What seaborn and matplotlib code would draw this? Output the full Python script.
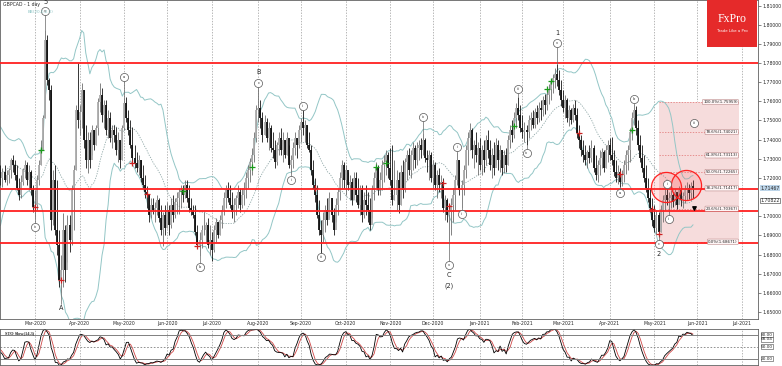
import numpy as np
import pandas as pd
import seaborn as sns
import matplotlib.pyplot as plt
import matplotlib.transforms as mtrans
from matplotlib.patches import Rectangle
from matplotlib.ticker import FormatStrFormatter

sns.set_style("white")
plt.rcParams['font.family'] = ['DejaVu Sans']

# GBPCAD daily bars, prices in pips (1e-4)
# warm-up bars (8 Jan - 5 Feb 2020), only used by the indicators
pre_high = [17040, 17010, 16980, 17010, 17060, 17100, 17140, 17180, 17230, 17270, 17320,
            17360, 17400, 17430, 17420, 17390, 17340, 17290, 17250, 17260, 17270]
pre_low = [16950, 16920, 16890, 16920, 16970, 17020, 17060, 17100, 17140, 17180, 17230,
           17280, 17320, 17350, 17330, 17290, 17240, 17190, 17160, 17170, 17190]
pre_close = [17000, 16960, 16930, 16980, 17030, 17070, 17110, 17150, 17190, 17240, 17290,
             17330, 17370, 17400, 17380, 17330, 17290, 17240, 17200, 17220, 17240]

# 6 Feb 2020 -> 28 May 2021
high = [
    17267, 17252, 17267, 17241, 17252, 17304, 17320, 17294, 17267, 17200,
    17215, 17252, 17294, 17283, 17267, 17241, 17163, 17137, 17215, 17294,
    17398, 17528, 17972, 17946, 17722, 17685, 17241, 17267, 17189, 16928,
    16797, 17017, 16954, 17006, 17006, 17163, 17267, 17581, 17800, 17581,
    17696, 17659, 17476, 17440, 17440, 17476, 17450, 17476, 17617, 17696,
    17669, 17607, 17607, 17555, 17544, 17476, 17476, 17466, 17440, 17398,
    17476, 17622, 17622, 17555, 17502, 17466, 17372, 17335, 17320, 17294,
    17267, 17215, 17158, 17111, 17095, 17095, 17074, 17111, 17095, 17058,
    17022, 17058, 17074, 17058, 17095, 17111, 17095, 17127, 17147, 17163,
    17163, 17189, 17189, 17163, 17095, 17058, 17058, 16954, 16918, 16954,
    17022, 16970, 16991, 16954, 16918, 16954, 16991, 16970, 17006, 17058,
    17127, 17163, 17179, 17163, 17127, 17095, 17111, 17163, 17147, 17147,
    17179, 17231, 17267, 17304, 17356, 17440, 17581, 17669, 17607, 17544,
    17528, 17513, 17492, 17476, 17440, 17398, 17388, 17440, 17461, 17440,
    17398, 17440, 17372, 17320, 17388, 17440, 17408, 17476, 17513, 17555,
    17502, 17476, 17440, 17372, 17294, 17200, 17163, 17085, 16980, 17022,
    17058, 17095, 17127, 17095, 17043, 17095, 17147, 17231, 17294, 17283,
    17267, 17231, 17215, 17200, 17231, 17231, 17200, 17163, 17163, 17127,
    17163, 17127, 17095, 17163, 17231, 17283, 17267, 17231, 17294, 17320,
    17346, 17335, 17356, 17372, 17294, 17241, 17231, 17267, 17294, 17304,
    17346, 17356, 17346, 17388, 17372, 17388, 17398, 17408, 17435, 17408,
    17346, 17346, 17335, 17294, 17283, 17241, 17252, 17215, 17200, 17111,
    17095, 17058, 17095, 17147, 17215, 17335, 17294, 17189, 17267, 17372,
    17440, 17487, 17461, 17398, 17440, 17388, 17408, 17372, 17398, 17424,
    17450, 17398, 17356, 17388, 17408, 17398, 17372, 17346, 17346, 17356,
    17424, 17476, 17502, 17544, 17591, 17622, 17581, 17528, 17492, 17476,
    17528, 17544, 17555, 17565, 17581, 17596, 17607, 17628, 17638, 17659,
    17690, 17716, 17743, 17774, 17795, 17763, 17711, 17659, 17633, 17617,
    17581, 17565, 17586, 17607, 17565, 17476, 17424, 17398, 17372, 17346,
    17372, 17398, 17372, 17320, 17294, 17346, 17356, 17346, 17372, 17398,
    17408, 17414, 17346, 17294, 17267, 17252, 17241, 17294, 17346, 17372,
    17461, 17544, 17586, 17575, 17502, 17424, 17372, 17320, 17267, 17200,
    17147, 17095, 17058, 17032, 17022, 17058, 17111, 17147, 17158, 17127,
    17137, 17127, 17147, 17121, 17158, 17147, 17127, 17163, 17179, 17168,
    17179, 17189]
low = [
    17163, 17153, 17179, 17163, 17174, 17200, 17231, 17189, 17137, 17085,
    17095, 17163, 17200, 17163, 17137, 17111, 17022, 16991, 17032, 17163,
    17267, 17346, 17513, 17685, 17607, 16928, 16954, 16902, 16797, 16630,
    16599, 16630, 16656, 16761, 16813, 16850, 16928, 17241, 17461, 17424,
    17461, 17356, 17252, 17226, 17252, 17320, 17346, 17372, 17424, 17544,
    17492, 17461, 17424, 17408, 17388, 17356, 17388, 17320, 17283, 17252,
    17294, 17450, 17492, 17424, 17356, 17283, 17252, 17231, 17215, 17179,
    17147, 17095, 17043, 16970, 16991, 17012, 16970, 17006, 16970, 16902,
    16844, 16902, 16938, 16902, 16938, 16970, 16991, 17012, 17012, 17043,
    17074, 17095, 17074, 17022, 17006, 16991, 16902, 16834, 16792, 16834,
    16902, 16865, 16834, 16797, 16766, 16813, 16865, 16886, 16902, 16938,
    17006, 17043, 17074, 17043, 16991, 16970, 17006, 17043, 17022, 17043,
    17058, 17095, 17147, 17179, 17215, 17283, 17388, 17492, 17461, 17388,
    17424, 17388, 17346, 17335, 17304, 17252, 17267, 17320, 17320, 17283,
    17304, 17320, 17252, 17220, 17252, 17320, 17304, 17356, 17388, 17424,
    17388, 17356, 17335, 17215, 17147, 17074, 16991, 16902, 16797, 16865,
    16918, 16954, 16991, 16970, 16902, 16970, 17006, 17085, 17147, 17147,
    17111, 17137, 17085, 17058, 17095, 17074, 17043, 17006, 16970, 16991,
    17006, 16970, 16928, 16991, 17085, 17147, 17111, 17111, 17147, 17179,
    17215, 17200, 17163, 17058, 17085, 17032, 17017, 17058, 17095, 17127,
    17189, 17215, 17200, 17241, 17252, 17267, 17294, 17304, 17320, 17283,
    17231, 17189, 17179, 17147, 17137, 17095, 17127, 17095, 17022, 16980,
    16970, 16871, 16902, 16970, 17032, 17163, 17111, 17043, 17111, 17200,
    17267, 17346, 17304, 17252, 17283, 17215, 17241, 17215, 17231, 17267,
    17304, 17241, 17200, 17215, 17267, 17241, 17231, 17215, 17226, 17231,
    17267, 17356, 17388, 17408, 17461, 17502, 17440, 17408, 17388, 17372,
    17408, 17450, 17461, 17461, 17482, 17492, 17502, 17523, 17534, 17555,
    17586, 17607, 17643, 17669, 17680, 17633, 17575, 17544, 17513, 17492,
    17471, 17482, 17492, 17502, 17408, 17356, 17314, 17283, 17267, 17252,
    17278, 17283, 17231, 17189, 17179, 17215, 17252, 17231, 17252, 17283,
    17294, 17267, 17210, 17179, 17168, 17153, 17158, 17179, 17220, 17241,
    17283, 17398, 17476, 17424, 17346, 17283, 17231, 17179, 17127, 17074,
    17022, 16949, 16918, 16907, 16897, 16918, 16970, 17032, 17058, 17017,
    17043, 17048, 17058, 17038, 17064, 17053, 17043, 17069, 17085, 17090,
    17085, 17095]
close = [
    17200, 17231, 17189, 17215, 17241, 17294, 17267, 17215, 17147, 17111,
    17179, 17241, 17267, 17189, 17231, 17137, 17048, 17058, 17189, 17267,
    17346, 17513, 17920, 17711, 17659, 16980, 17189, 16928, 16850, 16667,
    16719, 16928, 16719, 16954, 16876, 17137, 17241, 17555, 17502, 17544,
    17659, 17398, 17294, 17398, 17294, 17450, 17372, 17461, 17596, 17633,
    17528, 17581, 17450, 17513, 17408, 17450, 17424, 17346, 17398, 17294,
    17461, 17591, 17513, 17450, 17372, 17304, 17278, 17252, 17294, 17200,
    17163, 17127, 17111, 17006, 17058, 17032, 17043, 17085, 16991, 16928,
    17006, 16938, 17032, 16954, 17058, 17006, 17074, 17095, 17127, 17137,
    17111, 17163, 17095, 17043, 17032, 17006, 16918, 16850, 16876, 16928,
    16928, 16954, 16850, 16876, 16823, 16928, 16970, 16902, 16980, 17032,
    17095, 17137, 17095, 17058, 17022, 17058, 17095, 17127, 17058, 17111,
    17147, 17200, 17241, 17283, 17320, 17408, 17555, 17565, 17513, 17424,
    17492, 17408, 17461, 17356, 17346, 17283, 17372, 17408, 17346, 17398,
    17320, 17408, 17267, 17294, 17356, 17408, 17372, 17450, 17492, 17461,
    17476, 17372, 17346, 17241, 17163, 17111, 17006, 16928, 16902, 16980,
    17032, 16980, 17095, 17006, 16928, 17058, 17127, 17200, 17267, 17189,
    17241, 17163, 17179, 17085, 17200, 17111, 17058, 17137, 17006, 17085,
    17058, 17032, 16954, 17137, 17200, 17252, 17137, 17189, 17267, 17283,
    17320, 17252, 17189, 17085, 17111, 17189, 17058, 17231, 17137, 17283,
    17320, 17241, 17320, 17356, 17294, 17356, 17372, 17346, 17398, 17304,
    17294, 17320, 17200, 17267, 17163, 17215, 17163, 17179, 17043, 17085,
    17006, 17022, 17058, 17111, 17189, 17294, 17137, 17163, 17241, 17346,
    17408, 17450, 17346, 17372, 17320, 17356, 17267, 17346, 17294, 17398,
    17346, 17267, 17320, 17252, 17372, 17294, 17346, 17252, 17320, 17267,
    17398, 17450, 17424, 17513, 17565, 17528, 17461, 17440, 17450, 17440,
    17502, 17513, 17476, 17544, 17513, 17565, 17555, 17607, 17581, 17633,
    17664, 17701, 17722, 17743, 17711, 17659, 17607, 17565, 17607, 17513,
    17555, 17502, 17565, 17528, 17435, 17398, 17346, 17320, 17294, 17335,
    17304, 17356, 17252, 17215, 17267, 17304, 17335, 17252, 17346, 17372,
    17320, 17294, 17231, 17200, 17231, 17179, 17215, 17267, 17320, 17346,
    17440, 17513, 17555, 17461, 17372, 17304, 17252, 17200, 17147, 17095,
    17043, 16980, 16938, 17006, 16918, 17032, 17085, 17111, 17085, 17095,
    17111, 17074, 17127, 17058, 17137, 17085, 17106, 17137, 17147, 17121,
    17158, 17147]

red_levels = [1.7800, 1.7142, 1.7025, 1.6860]
price_ticks = [1.65, 1.66, 1.67, 1.68, 1.69, 1.70, 1.72, 1.73, 1.74, 1.75, 1.76,
               1.77, 1.78, 1.79, 1.80, 1.81]

fib_ratio = [1.0, 0.786, 0.618, 0.5, 0.382, 0.236, 0.0]
fib_text = ['100.0%(1.75959)', '78.6%(1.74021)', '61.8%(1.73113)', '50.0%(1.72265)',
            '38.2%(1.71417)', '23.6%(1.70367)', '0.0%(1.68671)']
fib_top, fib_bottom = 1.75959, 1.68671
fib_x0, fib_x1 = 324, 363.6

# signal crosses (bar index, price in pips)
green_sig = [(20, 17346), (90, 17132), (124, 17257), (185, 17257), (190, 17278),
             (253, 17471), (269, 17664), (271, 17706), (311, 17450)]
red_sig = [(17, 17048), (30, 16667), (65, 17278), (72, 17116), (97, 16844), (155, 17147),
           (218, 17174), (221, 17053), (285, 17435), (305, 17220), (321, 17038), (324, 16907)]

# elliott wave counts: bar index, label price (pips), text
wave_circles = [(22, 18072, 'v'), (17, 16944, 'iv'), (61, 17727, 'a'), (98, 16735, 'b'),
                (127, 17696, 'c'), (143, 17189, 'i'), (149, 17575, 'ii'), (158, 16787, 'iii'),
                (208, 17518, 'iv'), (221, 16745, 'v'), (225, 17361, 'i'), (227, 17012, 'ii'),
                (255, 17664, 'iii'), (259, 17330, 'iv'), (274, 17904, 'v'), (305, 17121, 'a'),
                (312, 17612, 'b'), (324, 16855, 'c'), (328, 17168, 'i'), (329, 16985, 'ii')]
wave_next = (341.5, 17487, 'iii')
wave_big = [(22, 18119, '5'), (30, 16521, 'A'), (127, 17753, 'B'), (221, 16693, 'C'),
            (221, 16636, '(2)'), (274, 17957, '1'), (324, 16803, '2')]

target_circles = [(327.7, 17153), (337.5, 17163)]

# ---- data frame and indicators
n_pre = len(pre_close)
df = pd.DataFrame({
    'x': np.arange(-n_pre, len(close)),
    'high': np.array(pre_high + high) / 1e4,
    'low': np.array(pre_low + low) / 1e4,
    'close': np.array(pre_close + close) / 1e4,
})
df['open'] = df['close'].shift(1).fillna(df['close'])
mid = df['close'].rolling(20).mean()
sd = df['close'].rolling(20).std(ddof=0)
df['bb_mid'] = mid
df['bb_up'] = mid + 2 * sd
df['bb_dn'] = mid - 2 * sd
ll = df['low'].rolling(14).min()
hh = df['high'].rolling(14).max()
df['k'] = 100 * (df['close'] - ll).rolling(3).sum() / (hh - ll).rolling(3).sum()
df['d'] = df['k'].rolling(3).mean()
vis = df[df['x'] >= 0].reset_index(drop=True)

days = pd.bdate_range('2020-02-06', '2021-07-30')
new_month = np.where(days.month[1:] != days.month[:-1])[0] + 1
month_pos = list(new_month)
month_lab = [days[i].strftime('%b-%Y') for i in new_month]

# ---- figure
W, H = 782, 366
fig = plt.figure(figsize=(W / 100, H / 100), dpi=100)
ax = fig.add_axes([0, 1 - 319 / H, 758 / W, 319 / H])
ax2 = fig.add_axes([0, 1 / H, 758 / W, 36 / H])
for a in (ax, ax2):
    a.set_xlim(-0.23, 372.98)
    a.set_xticks(month_pos)
    a.grid(axis='x', ls=(0, (2, 2)), color='#9a9a9a', lw=0.5)
    a.grid(axis='y', visible=False)
    for s in a.spines.values():
        s.set_color('#606060')
        s.set_linewidth(0.6)
ax.set_ylim(1.64632, 1.81290)
ax2.set_ylim(4.25, 94.25)

# fibonacci box
ax.add_patch(Rectangle((fib_x0, fib_bottom), fib_x1 - fib_x0, fib_top - fib_bottom,
                       fc='#f6dcdc', ec='none', zorder=1))
for r, t in zip(fib_ratio, fib_text):
    lv = fib_bottom + r * (fib_top - fib_bottom)
    ax.plot([fib_x0, fib_x1], [lv, lv], color='#e07070', lw=0.5, ls=(0, (2, 2)), zorder=1.5)
    ax.text(fib_x1 - 0.6, lv, t, ha='right', va='center', fontsize=2.9, zorder=7,
            bbox=dict(boxstyle='round,pad=0.15', fc='#fff6f6', ec='#b07878', lw=0.35))

# bollinger bands
sns.lineplot(data=vis, x='x', y='bb_up', ax=ax, color='#93c6c6', lw=0.7, zorder=2)
sns.lineplot(data=vis, x='x', y='bb_dn', ax=ax, color='#93c6c6', lw=0.7, zorder=2)
sns.lineplot(data=vis, x='x', y='bb_mid', ax=ax, color='#90a8a8', lw=0.6, ls=(0, (1.5, 1.5)), zorder=2)

# candles: grey for rising days, black for falling days
up = vis['close'] >= vis['open']
ax.vlines(vis['x'][up], vis['low'][up], vis['high'][up], color='#6e6e6e', lw=0.6, zorder=3)
ax.vlines(vis['x'][~up], vis['low'][~up], vis['high'][~up], color='#151515', lw=0.6, zorder=3)
ax.vlines(vis['x'][up], vis['open'][up], vis['close'][up], color='#ababab', lw=1.3, zorder=3.1)
ax.vlines(vis['x'][~up], vis['open'][~up], vis['close'][~up], color='#111111', lw=1.3, zorder=3.1)

for lv in red_levels:
    ax.axhline(lv, color='#ff2020', lw=1.3, zorder=4)

gx, gy = zip(*green_sig)
rx, ry = zip(*red_sig)
sns.scatterplot(x=list(gx), y=np.array(gy) / 1e4, ax=ax, marker='+', s=14, color='#1a9a1a',
                linewidth=0.9, zorder=5)
sns.scatterplot(x=list(rx), y=np.array(ry) / 1e4, ax=ax, marker='+', s=14, color='#cc2222',
                linewidth=0.9, zorder=5)

# target circles
tx, ty = zip(*target_circles)
ax.scatter(tx, np.array(ty) / 1e4, s=470, facecolors=(1, 0.25, 0.25, 0.14),
           edgecolors='#ff2020', linewidths=0.9, zorder=5)

# wave labels
for j, p, t in wave_circles:
    p = p / 1e4
    bar = vis.iloc[j]
    end = bar['high'] if p > bar['high'] else bar['low']
    ax.plot([j, j], [p, end], color='#666666', lw=0.5, zorder=5.5)
for j, p, t in wave_circles + [wave_next]:
    ax.scatter([j], [p / 1e4], s=34, fc='white', ec='#555555', lw=0.5, zorder=6)
    ax.text(j, p / 1e4, t, fontsize=2.6, ha='center', va='center', zorder=6.5)
ax.plot([30, 30], [vis.iloc[30]['low'], 1.6540], color='#666666', lw=0.5, zorder=5.5)
for j, p, t in wave_big:
    ax.text(j, p / 1e4, t, fontsize=4.7, ha='center', va='center', zorder=6.5)
ax.scatter([341.5], [1.7043], marker='v', s=6, color='black', zorder=6)

# price axis (1.71 label hidden behind the current price boxes)
ax.yaxis.tick_right()
ax.set_yticks(price_ticks)
ax.yaxis.set_major_formatter(FormatStrFormatter('%.5f'))
ax.tick_params(axis='y', labelsize=3.3, length=2, width=0.4, pad=1)
ax.set_xticklabels(month_lab)
ax.tick_params(axis='x', labelsize=3.3, length=0, pad=1.5)
ax.set_xlabel('')
ax.set_ylabel('')
ptr = mtrans.blended_transform_factory(ax.transAxes, ax.transData)
ax.text(1.003, 1.71467, '1.71467', transform=ptr, fontsize=3.3, va='center', clip_on=False,
        bbox=dict(boxstyle='square,pad=0.1', fc='#bcd4e8', ec='none'))
ax.text(1.003, 1.70822, '1.70822', transform=ptr, fontsize=3.3, va='center', clip_on=False,
        bbox=dict(boxstyle='square,pad=0.1', fc='white', ec='#333333', lw=0.4))

# stochastic
sns.lineplot(data=vis, x='x', y='d', ax=ax2, color='#d04848', lw=0.6)
sns.lineplot(data=vis, x='x', y='k', ax=ax2, color='black', lw=0.6)
ax2.axhline(80, color='#808080', lw=0.7)
ax2.axhline(20, color='#808080', lw=0.7)
ax2.axhline(50, color='#808080', lw=0.6, ls=(0, (2, 2)))
ax2.set_xticklabels([])
ax2.set_yticks([])
ax2.tick_params(axis='x', length=0)
ax2.set_xlabel('')
ax2.set_ylabel('')
str_ = mtrans.blended_transform_factory(ax2.transAxes, ax2.transData)
for v, t in [(80, '80.00'), (68.04, '68.04'), (50, '50.00'), (20, '20.00')]:
    ax2.text(1.004, v, t, transform=str_, fontsize=3.1, va='center', clip_on=False,
             bbox=dict(boxstyle='square,pad=0.1', fc='white', ec='#444444', lw=0.4))
ax2.text(2, 85, 'STO Slow(14,3)', fontsize=3.2, fontweight='bold',
         family=['Liberation Serif', 'DejaVu Serif'], va='center')

# header texts and logo
fig.text(3 / W, 1 - 4.5 / H, 'GBPCAD - 1 day', fontsize=3.3, va='center')
fig.text(28 / W, 1 - 12 / H, 'BB(20,0,2.0)', fontsize=3, color='#8cc4c4', va='center')
fig.add_artist(Rectangle((707 / W, 1 - 47 / H), 50 / W, 47 / H, transform=fig.transFigure,
                         fc='#e52a2a', ec='none', zorder=10))
fig.text(732 / W, 1 - 19 / H, 'FxPro', fontsize=8.5, color='white', ha='center', va='center',
         family=['Liberation Serif', 'DejaVu Serif'], zorder=11)
fig.text(732 / W, 1 - 31 / H, 'Trade Like a Pro', fontsize=2.8, color='white', ha='center',
         va='center', zorder=11)

fig.savefig('out.png', dpi=100)
